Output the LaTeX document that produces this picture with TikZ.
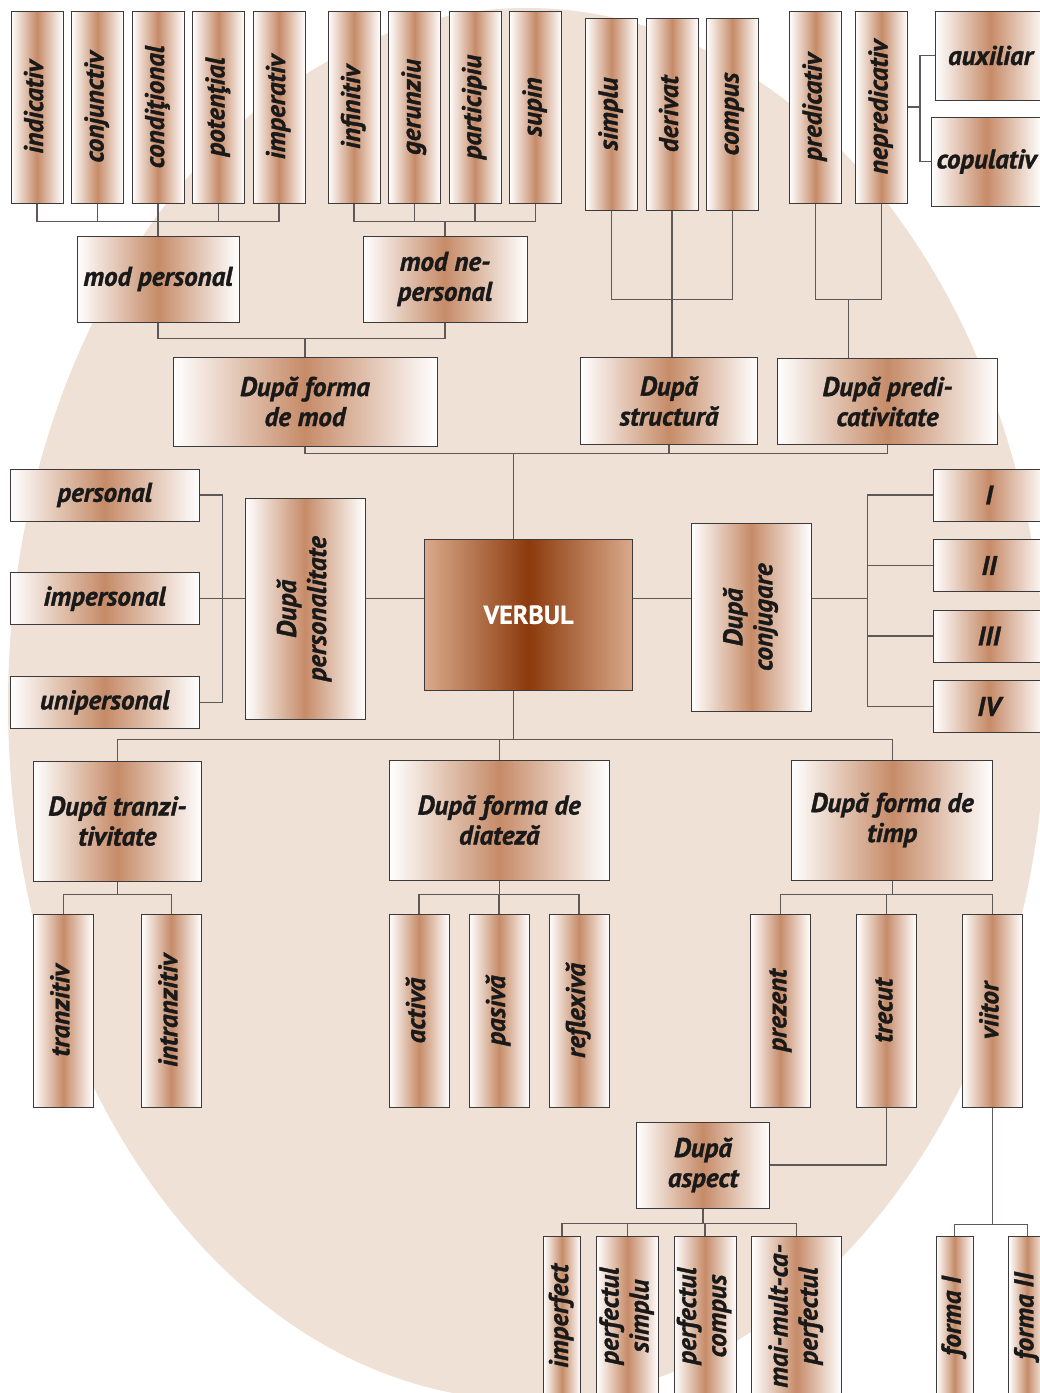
\documentclass[tikz,border=0pt]{standalone}
\usepackage{fontspec}
\setmainfont{PT Sans}[BoldItalicFeatures = {FakeBold = 1.2}, BoldFeatures = {FakeBold = 0.6}]
\usetikzlibrary{positioning, calc}

\definecolor{peach}{RGB}{240,225,214}
\definecolor{boxtan}{RGB}{198,139,104}
\definecolor{verbdark}{RGB}{139,58,12}
\definecolor{verblight}{RGB}{218,170,140}
\definecolor{boxline}{RGB}{60,58,58}
\definecolor{linkline}{RGB}{95,88,88}

\newcommand{\vlab}[1]{\rotatebox{90}{\begin{tabular}{@{}c@{}}#1\end{tabular}}}

\begin{document}
\begin{tikzpicture}[
    x = 1pt,
    y = -1pt,
    box/.style = {rectangle, draw = boxline, line width = 1pt,
                  left color = white, right color = white, middle color = boxtan,
                  inner sep = 0pt, align = center, text = black!90,
                  font = \bfseries\itshape\fontsize{27}{30}\selectfont},
    vbox/.style = {box, minimum width = 52pt, minimum height = 192pt},
    link/.style = {draw = linkline, line width = 1.2pt}
]

\clip (0,0) rectangle (1040,1393);
\fill[peach] (527,704) ellipse [x radius = 519, y radius = 696];

% Moods
\node[vbox]                          (indicativ)   at (37,107) {\vlab{indicativ}};
\node[vbox, right = 7.5pt of indicativ]   (conjunctiv)  {\vlab{conjunctiv}};
\node[vbox, right = 7.5pt of conjunctiv]  (conditional) {\vlab{condiţional}};
\node[vbox, right = 7.5pt of conditional] (potential)   {\vlab{potenţial}};
\node[vbox, right = 7.5pt of potential]   (imperativ)   {\vlab{imperativ}};
\node[vbox, right = 22pt of imperativ]    (infinitiv)   {\vlab{infinitiv}};
\node[vbox, right = 7.5pt of infinitiv]   (gerunziu)    {\vlab{gerunziu}};
\node[vbox, right = 7.5pt of gerunziu]    (participiu)  {\vlab{participiu}};
\node[vbox, right = 7.5pt of participiu]  (supin)       {\vlab{supin}};

\node[box, minimum width = 162pt, minimum height = 86pt] (modp)     at (158,279)   {mod personal};
\node[box, minimum width = 164pt, minimum height = 86pt] (modnp)    at (445,279)   {mod ne-\\personal};
\node[box, minimum width = 264pt, minimum height = 89pt] (formamod) at (305,401.5) {După forma\\de mod};

% Structure and predicativity
\node[vbox]                          (simplu)  at (611.5,114) {\vlab{simplu}};
\node[vbox, right = 7.5pt of simplu] (derivat) {\vlab{derivat}};
\node[vbox, right = 7.5pt of derivat] (compus) {\vlab{compus}};
\node[vbox]                          (predicativ) at (815.5,107) {\vlab{predicativ}};
\node[vbox, right = 13pt of predicativ] (nepred) {\vlab{nepredicativ}};
\node[box, minimum width = 110pt, minimum height = 89pt] (auxiliar)  at (990.5,55.5)  {auxiliar};
\node[box, minimum width = 110pt, minimum height = 89pt] (copulativ) at (986.5,161.5) {copulativ};

\node[box, minimum width = 177pt, minimum height = 87pt] (structura) at (669,401)   {După\\structură};
\node[box, minimum width = 220pt, minimum height = 86pt] (predic)    at (887.5,401.5) {După predi-\\cativitate};

% Centre
\node[box, minimum width = 208pt, minimum height = 151pt,
      left color = verblight, right color = verblight, middle color = verbdark,
      text = white, font = \bfseries\fontsize{26}{30}\selectfont] (verbul) at (528.5,614.7) {VERBUL};

\node[box, minimum width = 189pt, minimum height = 52pt] (personal)    at (104.7,495) {personal};
\node[box, minimum width = 189pt, minimum height = 52pt, below = 50.7pt of personal]   (impersonal)  {impersonal};
\node[box, minimum width = 189pt, minimum height = 52pt, below = 50.7pt of impersonal] (unipersonal) {unipersonal};
\node[box, minimum width = 120pt, minimum height = 221pt] (personalitate) at (305,608.8) {\vlab{După\\personalitate}};

\node[box, minimum width = 120pt, minimum height = 188pt] (conjugare) at (751.3,617.2) {\vlab{După\\conjugare}};
\node[box, minimum width = 112pt, minimum height = 52pt] (conjI) at (989,495) {I};
\node[box, minimum width = 112pt, minimum height = 52pt, below = 17.5pt of conjI]   (conjII)  {II};
\node[box, minimum width = 112pt, minimum height = 52pt, below = 17.5pt of conjII]  (conjIII) {III};
\node[box, minimum width = 112pt, minimum height = 52pt, below = 17.5pt of conjIII] (conjIV)  {IV};

% Lower groups
\node[box, minimum width = 168pt, minimum height = 120pt] (tranzitivitate) at (117.4,821) {După tranzi-\\tivitate};
\node[box, minimum width = 220pt, minimum height = 120pt] (diateza)        at (499.2,820) {După forma de\\diateză};
\node[box, minimum width = 201pt, minimum height = 120pt] (timp)           at (892.2,820) {După forma de\\timp};

\node[vbox, minimum width = 60pt, minimum height = 193pt] (tranzitiv) at (63.3,1010.5) {\vlab{tranzitiv}};
\node[vbox, minimum width = 60pt, minimum height = 193pt, right = 47pt of tranzitiv] (intranzitiv) {\vlab{intranzitiv}};
\node[vbox, minimum width = 60pt, minimum height = 193pt] (activa) at (419,1010.5) {\vlab{activă}};
\node[vbox, minimum width = 60pt, minimum height = 193pt, right = 19pt of activa] (pasiva)    {\vlab{pasivă}};
\node[vbox, minimum width = 60pt, minimum height = 193pt, right = 19pt of pasiva] (reflexiva) {\vlab{reflexivă}};
\node[vbox, minimum width = 60pt, minimum height = 193pt] (prezent) at (780.3,1010.5) {\vlab{prezent}};
\node[vbox, minimum width = 60pt, minimum height = 193pt, right = 45pt of prezent] (trecut) {\vlab{trecut}};
\node[vbox, minimum width = 60pt, minimum height = 193pt, right = 45pt of trecut]  (viitor) {\vlab{viitor}};

\node[box, minimum width = 133pt, minimum height = 86pt] (aspect) at (703,1165) {După\\aspect};
\node[vbox, minimum width = 37pt, minimum height = 160pt] (imperfect)  at (562,1316)   {\vlab{imperfect}};
\node[vbox, minimum width = 62pt, minimum height = 160pt] (perfsimplu) at (627.5,1316) {\vlab{perfectul\\simplu}};
\node[vbox, minimum width = 62pt, minimum height = 160pt] (perfcompus) at (705,1316)   {\vlab{perfectul\\compus}};
\node[vbox, minimum width = 90pt, minimum height = 160pt] (maimult)    at (796.5,1316) {\vlab{mai-mult-ca-\\perfectul}};
\node[vbox, minimum width = 37pt, minimum height = 160pt] (formaI)     at (954.6,1316) {\vlab{forma I}};
\node[vbox, minimum width = 37pt, minimum height = 160pt] (formaII)    at (1027.3,1316) {\vlab{forma II}};

% Links, top
\draw[link] (indicativ.south) -- ++(0,18) coordinate (b1) -| (imperativ.south);
\foreach \n in {conjunctiv, conditional, potential}
    \draw[link] (\n.south) -- (\n.south |- b1);
\draw[link] (modp.north) -- (modp.north |- b1);
\draw[link] (infinitiv.south) -- ++(0,18) coordinate (b2) -| (supin.south);
\foreach \n in {gerunziu, participiu}
    \draw[link] (\n.south) -- (\n.south |- b2);
\draw[link] (modnp.north) -- (modnp.north |- b2);
\draw[link] (modp.south) -- ++(0,16) coordinate (b3) -| (modnp.south);
\draw[link] (formamod.north) -- (formamod.north |- b3);

\draw[link] (simplu.south) -- ++(0,89) coordinate (b4) -| (compus.south);
\draw[link] (derivat.south) -- (derivat.south |- structura.north);
\draw[link] (predicativ.south) -- ++(0,96) coordinate (b5) -| (nepred.south);
\coordinate (pm) at ($(predicativ.south)!0.5!(nepred.south)$);
\draw[link] (pm |- b5) -- (pm |- predic.north);
\draw[link] (nepred.east) -- ++(12,0) coordinate (b6);
\draw[link] (auxiliar.west) -| (b6) |- (copulativ.west);

\draw[link] (formamod.south) -- ++(0,7) coordinate (b7) -| (predic.south);
\draw[link] (structura.south) -- (structura.south |- b7);
\coordinate (vs) at ([xshift = -15pt]verbul.north);
\draw[link] (vs) -- (vs |- b7);

% Links, middle
\draw[link] (personal.east) -- ++(23,0) coordinate (b8) |- (unipersonal.east);
\draw[link] (impersonal.east) -- (impersonal.east -| personalitate.west);
\draw[link] (impersonal.east -| personalitate.east) -- (impersonal.east -| verbul.west);
\draw[link] (impersonal.east -| verbul.east) -- (impersonal.east -| conjugare.west);
\draw[link] (impersonal.east -| conjugare.east) -- ++(56,0) coordinate (b9);
\draw[link] (conjI.west) -| (b9) |- (conjIV.west);
\foreach \n in {conjII, conjIII}
    \draw[link] (\n.west) -- (\n.west -| b9);

% Links, bottom
\coordinate (vb) at ([xshift = -15pt]verbul.south);
\draw[link] (vb) -- ++(0,49) coordinate (b10);
\draw[link] (tranzitivitate.north) |- (b10) -| (timp.north);
\draw[link] (diateza.north) -- (diateza.north |- b10);

\draw[link] (tranzitivitate.south) -- ++(0,13) coordinate (b11);
\draw[link] (tranzitiv.north) |- (b11) -| (intranzitiv.north);
\draw[link] (diateza.south) -- ++(0,14) coordinate (b12);
\draw[link] (activa.north) |- (b12) -| (reflexiva.north);
\draw[link] (pasiva.north) -- (pasiva.north |- b12);
\draw[link] (timp.south) -- ++(0,14) coordinate (b13);
\draw[link] (prezent.north) |- (b13) -| (viitor.north);
\draw[link] (trecut.north) -- (trecut.north |- b13);
\draw[link] (trecut.south) |- (aspect.east);
\draw[link] (aspect.south) -- ++(0,15) coordinate (b14);
\draw[link] (imperfect.north) |- (b14) -| (maimult.north);
\foreach \n in {perfsimplu, perfcompus}
    \draw[link] (\n.north) -- (\n.north |- b14);
\draw[link] (viitor.south) -- ++(0,117) coordinate (b15);
\draw[link] (formaI.north) |- (b15) -| (formaII.north);

\end{tikzpicture}
\end{document}
